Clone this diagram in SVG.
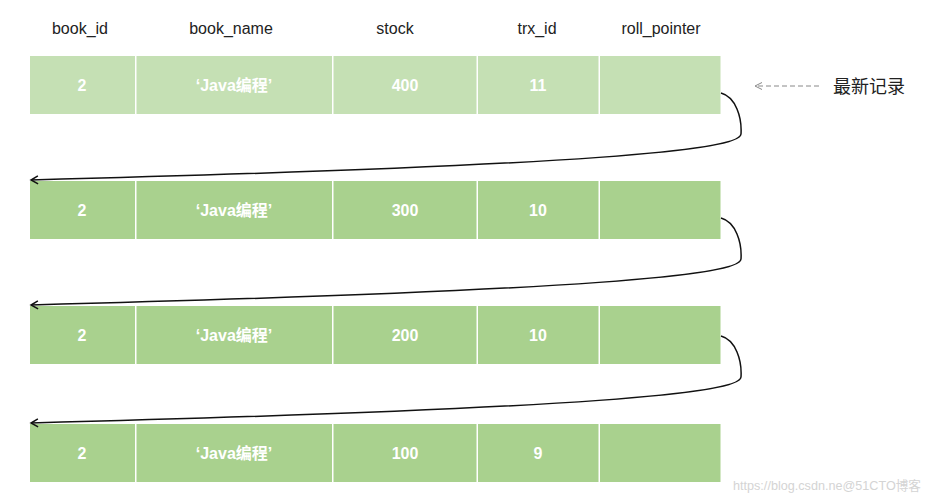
<svg xmlns="http://www.w3.org/2000/svg" width="931" height="500" viewBox="0 0 931 500">
<style>
.hd{font-family:"Liberation Sans","Noto Sans CJK SC",sans-serif;font-size:16px;fill:#222;text-anchor:middle}
.v{font-family:"Liberation Sans","Noto Sans CJK SC",sans-serif;font-size:16px;font-weight:bold;fill:#fff;text-anchor:middle}
.c1{fill:#C5E0B4}
.c2{fill:#A9D18E}
.lnk{fill:none;stroke:#111;stroke-width:1.5}
</style>
<defs>
<marker id="ah" markerWidth="10" markerHeight="10" refX="8" refY="5" orient="auto" markerUnits="userSpaceOnUse">
<path d="M1,1 L8,5 L1,9" fill="none" stroke="#111" stroke-width="1.5"/>
</marker>
<marker id="ag" markerWidth="10" markerHeight="10" refX="8" refY="5" orient="auto" markerUnits="userSpaceOnUse">
<path d="M1,1.5 L8,5 L1,8.5" fill="none" stroke="#888" stroke-width="1"/>
</marker>
</defs>
<rect width="931" height="500" fill="#fff"/>
<g id="header">
<text class="hd" x="80" y="34">book_id</text>
<text class="hd" x="231" y="34">book_name</text>
<text class="hd" x="395" y="34">stock</text>
<text class="hd" x="537" y="34">trx_id</text>
<text class="hd" x="661" y="34">roll_pointer</text>
</g>
<g id="row1">
<rect class="c1" x="30" y="56" width="105" height="58"/>
<rect class="c1" x="136.5" y="56" width="195.5" height="58"/>
<rect class="c1" x="333.5" y="56" width="143" height="58"/>
<rect class="c1" x="478" y="56" width="120.5" height="58"/>
<rect class="c1" x="600" y="56" width="120.5" height="58"/>
<text class="v" x="82" y="91">2</text>
<text class="v" x="234" y="91">‘Java编程’</text>
<text class="v" x="405" y="91">400</text>
<text class="v" x="538" y="91">11</text>
</g>
<g id="row2">
<rect class="c2" x="30" y="181" width="105" height="58"/>
<rect class="c2" x="136.5" y="181" width="195.5" height="58"/>
<rect class="c2" x="333.5" y="181" width="143" height="58"/>
<rect class="c2" x="478" y="181" width="120.5" height="58"/>
<rect class="c2" x="600" y="181" width="120.5" height="58"/>
<text class="v" x="82" y="216">2</text>
<text class="v" x="234" y="216">‘Java编程’</text>
<text class="v" x="405" y="216">300</text>
<text class="v" x="538" y="216">10</text>
</g>
<g id="row3">
<rect class="c2" x="30" y="306" width="105" height="58"/>
<rect class="c2" x="136.5" y="306" width="195.5" height="58"/>
<rect class="c2" x="333.5" y="306" width="143" height="58"/>
<rect class="c2" x="478" y="306" width="120.5" height="58"/>
<rect class="c2" x="600" y="306" width="120.5" height="58"/>
<text class="v" x="82" y="341">2</text>
<text class="v" x="234" y="341">‘Java编程’</text>
<text class="v" x="405" y="341">200</text>
<text class="v" x="538" y="341">10</text>
</g>
<g id="row4">
<rect class="c2" x="30" y="424" width="105" height="58"/>
<rect class="c2" x="136.5" y="424" width="195.5" height="58"/>
<rect class="c2" x="333.5" y="424" width="143" height="58"/>
<rect class="c2" x="478" y="424" width="120.5" height="58"/>
<rect class="c2" x="600" y="424" width="120.5" height="58"/>
<text class="v" x="82" y="459">2</text>
<text class="v" x="234" y="459">‘Java编程’</text>
<text class="v" x="405" y="459">100</text>
<text class="v" x="538" y="459">9</text>
</g>
<g id="latest">
<text x="833" y="93" style="font-family:'Noto Sans CJK SC',sans-serif;font-size:18px;fill:#222">最新记录</text>
</g>
<g id="connectors">
<path class="lnk" marker-end="url(#ah)" d="M721,93 C736,97 742,118 741,134 C740,150 600,165 31,180"/>
<path class="lnk" marker-end="url(#ah)" d="M721,218 C736,222 742,243 741,259 C740,275 600,290 31,305"/>
<path class="lnk" marker-end="url(#ah)" d="M721,336 C736,340 742,361 741,377 C740,393 600,408 31,423"/>
<path fill="none" stroke="#888" stroke-width="1" stroke-dasharray="5,3" marker-end="url(#ag)" d="M819,86 L755,86"/>
</g>
<text x="733" y="490" textLength="188" lengthAdjust="spacingAndGlyphs" style="font-family:'Liberation Sans','Noto Sans CJK SC',sans-serif;font-size:13px;fill:#d4d4d4">https://blog.csdn.ne@51CTO博客</text>
</svg>
